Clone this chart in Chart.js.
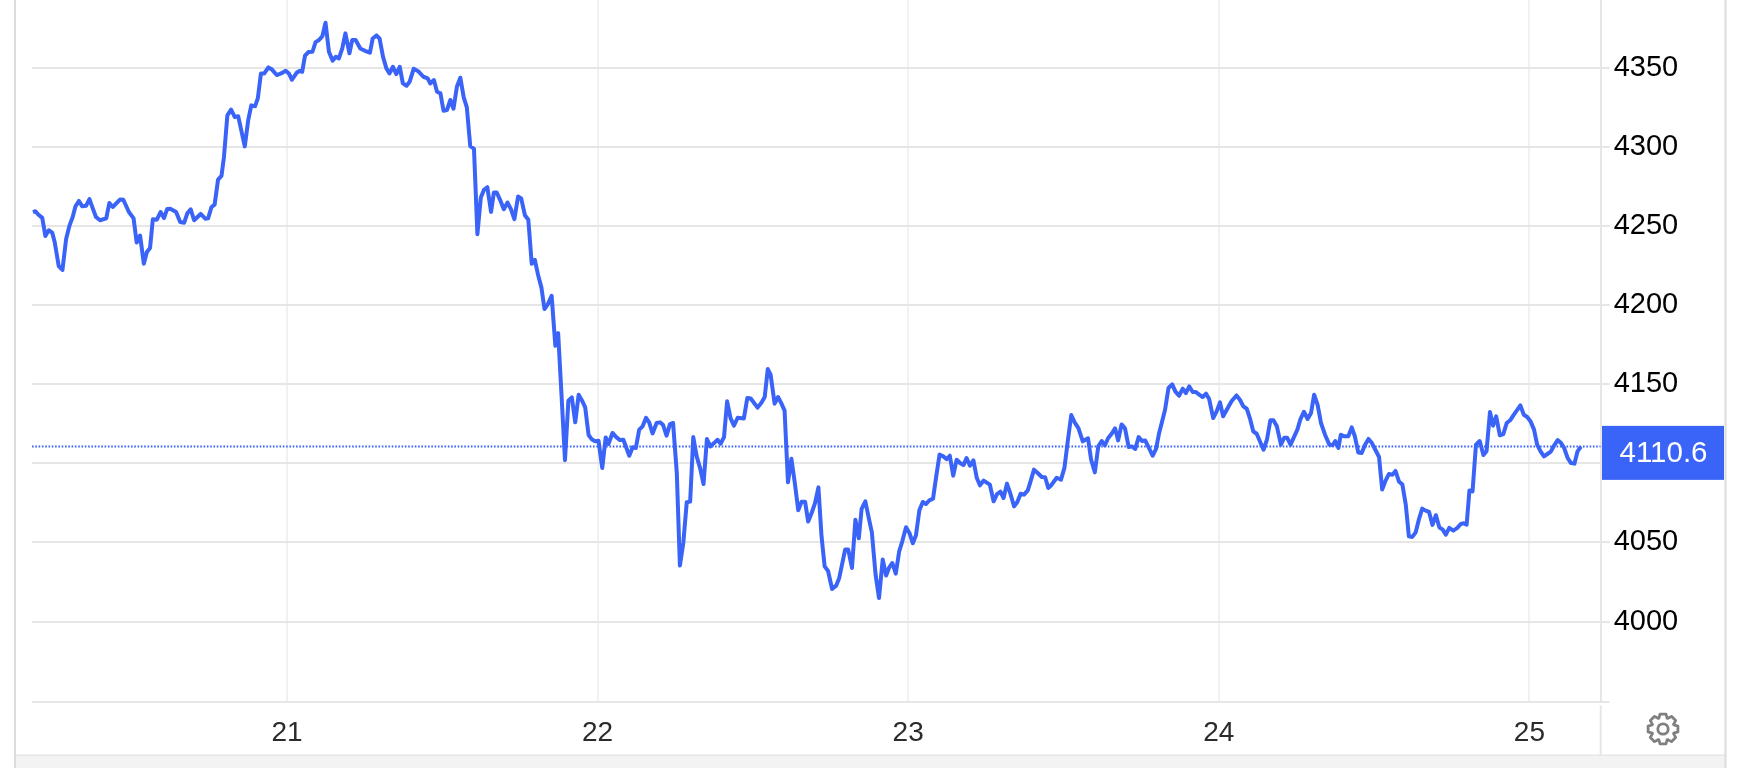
<!DOCTYPE html>
<html>
<head>
<meta charset="utf-8">
<style>html,body{margin:0;padding:0;background:#fff}canvas{display:block}</style>
<script src="https://cdn.jsdelivr.net/npm/chart.js@4"></script>
</head>
<body>
<canvas id="c" width="1740" height="768"></canvas>
<script>
const times = [
20.182,20.190,20.199,20.212,20.222,20.233,20.244,20.252,20.265,20.277,20.289,20.300,20.310,20.319,20.330,20.341,20.353,20.364,20.377,20.385,20.398,20.418,20.428,20.439,20.463,20.473,20.491,20.506,20.516,20.527,20.539,20.549,20.559,20.568,20.581,20.593,20.604,20.614,20.624,20.643,20.656,20.669,20.679,20.690,20.701,20.722,20.737,20.746,20.757,20.767,20.778,20.789,20.797,20.808,20.820,20.832,20.843,20.864,20.875,20.885,20.897,
20.906,20.916,20.927,20.940,20.951,20.967,20.981,20.996,21.006,21.016,21.031,21.040,21.049,21.058,21.069,21.082,21.092,21.103,21.114,21.124,21.135,21.147,21.157,21.167,21.178,21.188,21.201,21.210,21.221,21.236,21.251,21.267,21.276,21.288,21.298,21.309,21.320,21.330,21.341,21.352,21.363,21.373,21.385,21.395,21.408,21.423,21.439,21.453,21.461,21.473,21.483,21.494,21.504,21.515,21.526,21.536,21.547,21.558,21.569,21.579,21.590,21.602,
21.613,21.624,21.634,21.645,21.657,21.666,21.675,21.686,21.698,21.710,21.721,21.732,21.744,21.754,21.766,21.777,21.788,21.798,21.809,21.819,21.829,21.840,21.852,21.864,21.873,21.884,21.895,21.906,21.917,21.928,21.939,21.950,21.960,21.971,21.982,21.992,22.003,22.015,22.026,22.035,22.048,22.061,22.072,22.083,22.102,22.113,22.123,22.134,22.145,22.156,22.166,22.177,22.190,22.201,22.211,22.222,22.233,22.243,
22.255,22.265,22.276,22.287,22.298,22.308,22.319,22.330,22.341,22.352,22.363,22.375,22.386,22.396,22.407,22.417,22.428,22.439,22.451,22.471,22.482,22.493,22.515,22.528,22.538,22.548,22.557,22.570,22.581,22.592,22.602,22.613,22.624,22.635,22.646,22.657,22.668,22.678,22.689,22.700,22.711,22.721,22.731,22.742,22.755,22.768,22.778,22.797,22.807,22.819,22.830,22.841,22.850,22.862,22.873,22.883,
22.895,22.906,22.918,22.929,22.939,22.949,22.960,22.971,22.981,22.993,23.004,23.015,23.025,23.036,23.047,23.057,23.068,23.080,23.091,23.101,23.113,23.124,23.134,23.145,23.156,23.167,23.178,23.188,23.199,23.210,23.221,23.231,23.243,23.263,23.275,23.286,23.297,23.307,23.318,23.329,23.341,23.351,23.362,23.373,23.385,23.394,23.405,23.417,23.430,23.441,23.451,23.462,23.478,23.492,23.503,23.513,23.525,23.537,23.548,
23.562,23.579,23.589,23.601,23.612,23.623,23.633,23.644,23.655,23.666,23.676,23.687,23.698,23.710,23.720,23.731,23.742,23.753,23.763,23.775,23.787,23.798,23.808,23.827,23.838,23.850,23.860,23.872,23.884,23.894,23.905,23.916,23.926,23.937,23.948,23.959,23.969,23.982,23.993,24.004,24.014,24.027,24.041,24.057,24.068,24.079,24.090,24.100,24.111,24.122,24.144,24.155,24.166,24.176,24.187,24.200,24.211,24.220,24.231,24.242,24.253,24.263,24.274,24.286,24.297,24.307,24.318,24.329,24.342,24.356,
24.367,24.375,24.385,24.393,24.403,24.417,24.428,24.438,24.449,24.460,24.471,24.482,24.493,24.504,24.516,24.526,24.537,24.548,24.559,24.569,24.580,24.591,24.602,24.612,24.623,24.634,24.644,24.655,24.666,24.677,24.688,24.699,24.710,24.721,24.731,24.742,24.755,24.768,24.779,24.789,24.798,24.807,24.817,24.828,24.840,24.852,24.862,24.873,24.883,24.893,24.905,24.916,24.927,24.938,24.949,24.971,24.982,24.993,25.004,25.015,25.025,25.036,25.047,25.058,25.069,25.080,25.091,25.102,25.112,25.123,25.134,25.145,25.155,25.166
];
const prices = [
4258.8,4259.3,4257.2,4255.1,4243.7,4247.3,4245.8,4239.9,4224.7,4222.2,4242,4250.4,4255.7,4262.4,4265.8,4262.4,4262.8,4267,4259.9,4255.7,4253.6,4254.8,4264.5,4262,4266.8,4266.6,4258.8,4254.8,4239.5,4244,4226.2,4233.6,4236.1,4254.2,4254,4258.8,4255,4260.7,4260.9,4258.8,4252.5,4252.1,4258,4260.5,4253.6,4257.6,4254.6,4254.8,4262,4263.5,4279.3,4281.6,4293.6,4319.9,4323.5,4318.8,4319.3,4300.3,4316.7,4326.2,4325.6,
4330.6,4346.4,4346.4,4350.2,4349,4345.4,4346.4,4348.1,4346.4,4342.4,4346.8,4347.9,4347.5,4357.6,4359.9,4360.1,4366.2,4367.5,4370,4378.4,4360.1,4354.4,4356.9,4355.9,4362.2,4371.7,4359.1,4367.5,4367.5,4362.2,4360.7,4359.5,4368.5,4370.4,4368.5,4357,4349.6,4346.4,4350.6,4346,4350.6,4340.1,4338.6,4341.2,4349.4,4347.7,4344.3,4343.3,4340.1,4342.2,4334.8,4333.8,4322.8,4323.3,4329.6,4324.1,4338,4343.7,4331.3,4324.9,4300.5,4298.8,
4244.8,4268,4272.8,4274.5,4258.9,4271.2,4271.2,4266.5,4260.6,4264.8,4260.6,4254.3,4268.6,4267.4,4256.8,4253.9,4226.1,4228.6,4218.5,4211.2,4197.5,4200.6,4205.9,4174.3,4182.3,4142.7,4102,4139.6,4141.7,4125.9,4143.4,4139.6,4135.4,4117.9,4115,4113.9,4114.3,4097,4116.4,4112.2,4119.2,4116.4,4114.7,4114.9,4104.8,4110.1,4109.7,4121.3,4123.4,4128.8,4125.9,4118.9,4125.5,4125.9,4124.2,4117.5,4124.8,4125.5,
4093.9,4035.4,4049.7,4075.4,4075.8,4116.6,4104.4,4097,4086.9,4115.4,4110.7,4112.8,4114.9,4112.4,4116.6,4139.2,4128.6,4123.8,4128.8,4128.4,4141.3,4141,4135.2,4138.5,4141.9,4159.6,4156,4137.7,4141.9,4137.7,4133.3,4088,4102.9,4087.6,4070.3,4075.8,4075.8,4063.2,4068.6,4074.9,4084.8,4053.9,4034.9,4032,4020.6,4022.7,4027.6,4045.5,4045.5,4033.9,4064.4,4052.6,4071.2,4076,4065.5,4056.4,
4029.7,4014.9,4039.2,4029.1,4034.3,4037,4030.3,4044.4,4050.7,4059.6,4056,4049.5,4054.5,4070.3,4075.6,4074.3,4076.6,4077.7,4092.8,4105.5,4104.4,4102.7,4104.8,4092.2,4102.3,4100.2,4098.9,4103.4,4098.5,4101.9,4090.7,4086.1,4089.1,4086.5,4076,4080.6,4082.1,4078.1,4087.2,4080.8,4072.8,4075.4,4080.8,4080.2,4082.9,4088.6,4096,4093.9,4091.4,4091.2,4084.4,4086.5,4090.9,4089.7,4097.1,4112.8,4130.5,4125.5,4122.3,
4113.9,4115.8,4102.3,4094.3,4110.7,4114.1,4111.4,4116,4118.7,4122.1,4114.5,4124.6,4122.1,4110.3,4110.7,4109.1,4116.6,4114.1,4114.5,4109.7,4104.8,4109.1,4119.2,4133.9,4147.6,4149.9,4145.5,4142.7,4147.2,4144.4,4148.6,4145.1,4145.1,4143.4,4141.9,4144,4140.6,4128.6,4132.8,4138.5,4129.7,4134.3,4139.2,4142.9,4140.2,4136,4134.5,4128.6,4120.2,4118.7,4108.6,4114.9,4127.2,4127.2,4123.4,4111.8,4116.2,4116.2,4111.8,4116.6,4121.3,4128,4132.6,4128,4131.8,4143.4,4137.1,4125.5,4118.1,4111.8,
4111.6,4114.1,4109.7,4118.1,4117.1,4117.1,4122.7,4117.1,4106.9,4106.5,4111.8,4115.4,4112.8,4108.6,4104,4083.4,4089.1,4093.3,4092.8,4095.2,4088.6,4086.7,4073.9,4053.9,4053.5,4056.4,4064.4,4071.4,4070.1,4069.3,4061.1,4067.2,4059.6,4058.1,4054.9,4059.2,4057.5,4059.2,4061.7,4062.1,4061.3,4082.9,4082.3,4111.8,4114.1,4105.3,4107.6,4132.4,4123.8,4129.7,4117.7,4118.5,4125.5,4127.2,4130.5,4136.6,4130.7,4129.3,4126.5,4121.3,4111.8,4107.6,4104.4,4105.9,4107.4,4111.4,4114.7,4112.8,4109.7,4103.4,4100.2,4099.8,4107.6,4110.6
];
const dayTicks = [21, 22, 23, 24, 25];
const priceTicks = [4000, 4050, 4100, 4150, 4200, 4250, 4300, 4350];
const hiddenPriceLabel = 4100;
const lastPrice = 4110.6;
const xMin = 20.179, xMax = 25.2296;
const yMin = 3949.5, yMax = 4392.8;

const BLUE = '#3a63f8', GRID = '#e6e6e6', VGRID = '#eef2f7';

const framePlugin = {
  id: 'frame',
  beforeDraw(chart) {
    const { ctx, chartArea: a } = chart;
    ctx.save();
    ctx.fillStyle = '#f3f3f3';
    ctx.fillRect(15, 755, 1710, 13);
    ctx.fillStyle = GRID;
    ctx.fillRect(15, 754.5, 1710, 1.5);
    ctx.fillStyle = '#dcdcdc';
    ctx.fillRect(14, 0, 2, 768);
    ctx.fillRect(1724.5, 0, 2, 768);
    ctx.fillStyle = GRID;
    ctx.fillRect(a.right - 1, a.bottom + 4, 2, 755 - a.bottom - 4);
    ctx.restore();
  },
  afterDraw(chart) {
    const { ctx, scales: { y } } = chart;
    const py = y.getPixelForValue(lastPrice);
    ctx.save();
    ctx.fillStyle = BLUE;
    ctx.fillRect(1602, py - 20.7, 122, 54);
    ctx.fillStyle = '#fff';
    ctx.font = '29.5px "Liberation Sans", Arial, sans-serif';
    ctx.textAlign = 'center';
    ctx.textBaseline = 'middle';
    ctx.fillText(lastPrice.toFixed(1), 1663.5, py + 7.5);
    // settings gear
    const cx = 1663, cy = 729, teeth = 8;
    ctx.strokeStyle = '#808080';
    ctx.lineWidth = 2.8;
    ctx.lineJoin = 'round';
    ctx.beginPath();
    for (let i = 0; i < teeth; i++) {
      const t = i / teeth * Math.PI * 2 - Math.PI / 2;
      const w = Math.PI / teeth;
      const pts = [[-w * 0.95, 11.5], [-w * 0.5, 15.2], [w * 0.5, 15.2], [w * 0.95, 11.5]];
      pts.forEach(([o, r], k) => {
        const px = cx + Math.cos(t + o) * r, qy = cy + Math.sin(t + o) * r;
        if (i === 0 && k === 0) ctx.moveTo(px, qy); else ctx.lineTo(px, qy);
      });
    }
    ctx.closePath();
    ctx.stroke();
    ctx.beginPath();
    ctx.arc(cx, cy, 5.2, 0, Math.PI * 2);
    ctx.stroke();
    ctx.restore();
  }
};

new Chart(document.getElementById('c'), {
  type: 'line',
  data: {
    datasets: [
      {
        label: 'Price',
        data: times.map((t, i) => ({ x: t, y: prices[i] })),
        borderColor: BLUE,
        borderWidth: 4,
        pointRadius: 0,
        tension: 0,
        borderJoinStyle: 'round',
        order: 1
      },
      {
        label: 'Last',
        data: [{ x: xMin, y: lastPrice }, { x: xMax, y: lastPrice }],
        borderColor: BLUE,
        borderWidth: 2,
        borderDash: [1.6, 1.7],
        pointRadius: 0,
        order: 2
      }
    ]
  },
  plugins: [framePlugin],
  options: {
    responsive: false,
    animation: false,
    devicePixelRatio: 1,
    layout: { autoPadding: false, padding: { left: 32, right: 0, top: 0, bottom: 0 } },
    plugins: { legend: { display: false }, tooltip: { enabled: false }, title: { display: false } },
    scales: {
      x: {
        type: 'linear',
        min: xMin,
        max: xMax,
        afterBuildTicks(s) { s.ticks = dayTicks.map(v => ({ value: v })); },
        afterFit(s) { s.height = 66.5; s.paddingLeft = 0; s.paddingRight = 0; },
        grid: { color: VGRID, lineWidth: 2, drawTicks: false },
        border: { display: false },
        ticks: {
          color: '#2b2b2b',
          maxRotation: 0,
          padding: 15,
          font: { family: '"Liberation Sans", Arial, sans-serif', size: 28 },
          callback: v => String(v)
        }
      },
      y: {
        type: 'linear',
        position: 'right',
        min: yMin,
        max: yMax,
        afterBuildTicks(s) { s.ticks = [yMin, ...priceTicks].map(v => ({ value: v })); },
        afterFit(s) { s.width = 139.3; s.paddingTop = 0; s.paddingBottom = 0; },
        grid: { color: GRID, lineWidth: 2, tickLength: 9, tickColor: GRID },
        border: { display: true, color: GRID, width: 2 },
        ticks: {
          color: '#000',
          padding: 4,
          crossAlign: 'near',
          labelOffset: 0,
          font: { family: '"Liberation Sans", Arial, sans-serif', size: 29 },
          callback: v => (priceTicks.includes(v) && v !== hiddenPriceLabel ? String(v) : '')
        }
      }
    }
  }
});
</script>
</body>
</html>
